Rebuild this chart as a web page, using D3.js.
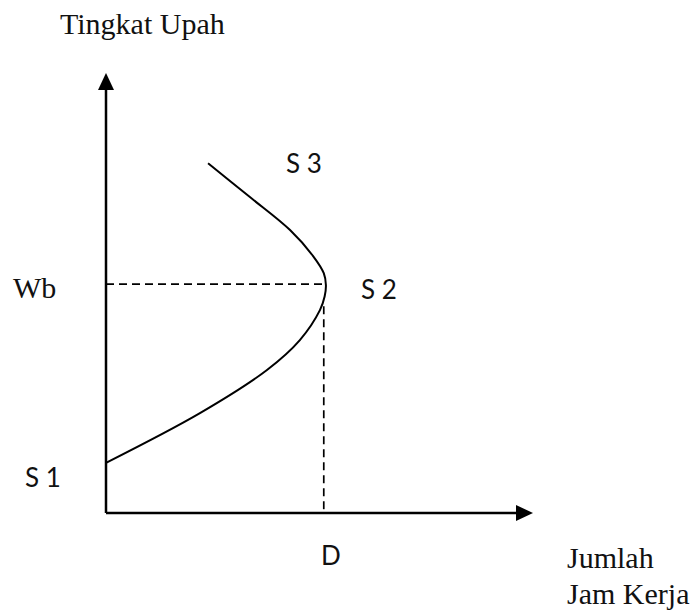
<!DOCTYPE html>
<html>
<head>
<meta charset="utf-8">
<script src="https://cdn.jsdelivr.net/npm/d3@7"></script>
<style>
  body { margin: 0; background: #fff; }
  .serif { font-family: "Liberation Serif", "Times New Roman", serif; font-size: 30px; fill: #111; }
  .sans { font-family: Lato, "Open Sans", sans-serif; font-size: 26px; fill: #111; }
</style>
</head>
<body>
<svg width="700" height="615"></svg>
<script>
// supply curve points (x = hours, y = wage)
const curveX = [0, 2.20, 3.77, 4.54, 5.01, 5.12, 5.15, 5.10, 4.85, 4.31, 3.37, 2.39];
const curveY = [1.14, 2.27, 3.25, 3.93, 4.61, 4.92, 5.18, 5.45, 5.84, 6.43, 7.18, 7.95];
const wbLevel = 5.2;
const dLevel = 5.1;
const yTitle = 'Tingkat Upah';
const xTitle = ['Jumlah', 'Jam Kerja'];

const svg = d3.select('svg');

const xScale = d3.scaleLinear().domain([0, 10]).range([106, 533]);
const yScale = d3.scaleLinear().domain([0, 10]).range([513, 73]);

const g = svg.append('g');

// dashed guides
g.append('line')
    .attr('x1', xScale(0)).attr('x2', xScale(dLevel))
    .attr('y1', yScale(wbLevel)).attr('y2', yScale(wbLevel))
    .attr('stroke', '#000').attr('stroke-width', 1.7)
    .attr('stroke-dasharray', '8,5');
g.append('line')
    .attr('x1', xScale(dLevel)).attr('x2', xScale(dLevel))
    .attr('y1', yScale(wbLevel - 0.5)).attr('y2', yScale(0))
    .attr('stroke', '#000').attr('stroke-width', 1.7)
    .attr('stroke-dasharray', '8,5');

// axes
const head = 16;
g.append('line')
    .attr('x1', xScale(0)).attr('y1', yScale(0))
    .attr('x2', xScale(0)).attr('y2', yScale(10) + head)
    .attr('stroke', '#000').attr('stroke-width', 2.5);
g.append('line')
    .attr('x1', xScale(0)).attr('y1', yScale(0))
    .attr('x2', xScale(10) - head).attr('y2', yScale(0))
    .attr('stroke', '#000').attr('stroke-width', 2.5);
g.append('path')
    .attr('d', `M${xScale(0)},${yScale(10)} L${xScale(0) - 8},${yScale(10) + head + 1} L${xScale(0) + 8},${yScale(10) + head + 1} Z`)
    .attr('fill', '#000');
g.append('path')
    .attr('d', `M${xScale(10)},${yScale(0)} L${xScale(10) - head - 1},${yScale(0) - 8} L${xScale(10) - head - 1},${yScale(0) + 8} Z`)
    .attr('fill', '#000');

// curve
const pts = curveX.map((x, i) => [x, curveY[i]]);
const line = d3.line()
    .x(d => xScale(d[0]))
    .y(d => yScale(d[1]))
    .curve(d3.curveCatmullRom.alpha(0.5));
g.append('path')
    .attr('fill', 'none')
    .attr('stroke', '#000')
    .attr('stroke-width', 2)
    .attr('d', line(pts));

// labels
g.append('text').attr('class', 'serif').attr('x', 60).attr('y', 34).text(yTitle);
g.append('text').attr('class', 'serif').attr('x', 13).attr('y', 298).text('Wb');
g.append('text').attr('class', 'sans').attr('x', 286).attr('y', 173).text('S 3');
g.append('text').attr('class', 'sans').attr('x', 361).attr('y', 299).text('S 2');
g.append('text').attr('class', 'sans').attr('x', 25).attr('y', 487).text('S 1');
g.append('text').attr('class', 'sans').attr('x', 321).attr('y', 565).text('D');
g.append('text').attr('class', 'serif').attr('x', 567).attr('y', 568).text(xTitle[0]);
g.append('text').attr('class', 'serif').attr('x', 567).attr('y', 604).text(xTitle[1]);
</script>
</body>
</html>
